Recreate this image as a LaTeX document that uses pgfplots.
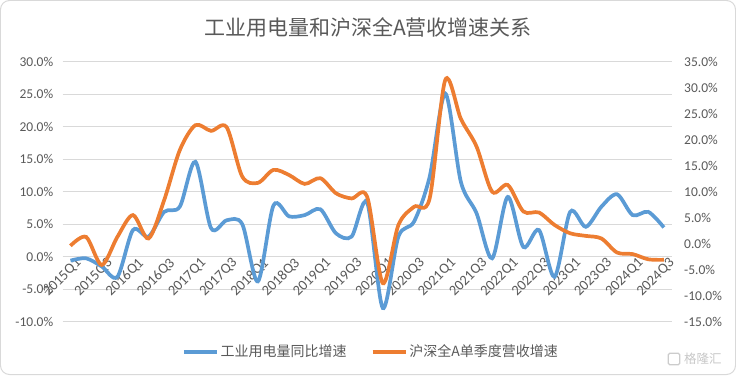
\documentclass[border=0pt]{standalone}
\usepackage{fontspec}
\setmainfont{Carlito}
\newfontfamily\cjk{Noto Sans CJK SC}
\usepackage{pgfplots}
\pgfplotsset{compat=1.18}
\usepackage{pgfplotstable}
\definecolor{eblue}{HTML}{5B9BD5}
\definecolor{eorange}{HTML}{ED7D31}
\definecolor{etext}{HTML}{595959}
\definecolor{egrid}{HTML}{D9D9D9}

\pgfplotstableread{
i blue orange
0 -0.6 -0.4
1 -0.25 1.3
2 -1.5 -4.1
3 -3.1 1.3
4 4.1 5.5
5 3.1 1.0
6 6.9 8.4
7 7.7 18.0
8 14.6 22.8
9 4.4 21.7
10 5.6 22.4
11 5.0 12.9
12 -3.8 11.7
13 7.9 14.2
14 6.2 13.2
15 6.4 11.5
16 7.3 12.6
17 3.6 9.7
18 3.1 8.7
19 8.3 9.0
20 -7.9 -7.6
21 3.1 3.6
22 5.4 7.1
23 12.3 8.7
24 25.1 31.5
25 11.5 24.0
26 6.7 18.7
27 -0.25 10.0
28 9.2 11.3
29 1.5 6.2
30 4.1 6.0
31 -3.1 3.6
32 6.9 2.0
33 4.6 1.5
34 7.7 1.0
35 9.6 -1.7
36 6.4 -2.0
37 6.9 -3.0
38 4.5 -3.1
}\data

\begin{document}
\begin{tikzpicture}
\useasboundingbox (-62.7pt,-53.3pt) rectangle (673.3pt,321.7pt);
\draw[egrid, line width=1pt, rounded corners=9pt] (-62.2pt,-52.8pt) rectangle (672.8pt,321.2pt);
\begin{axis}[
  at={(0pt,0pt)}, anchor=south west, scale only axis,
  width=609pt, height=260pt,
  xmin=-0.5, xmax=38.5, ymin=-10, ymax=30,
  axis x line*=middle, axis y line*=left,
  hide obscured x ticks=false, hide obscured y ticks=false,
  x axis line style={draw=none}, y axis line style={draw=none},
  ytick={-10,-5,...,30},
  ymajorgrids, grid style={egrid, line width=0.8pt},
  major tick length=0pt,
  xtick={0,2,...,38},
  xticklabels={2015Q1,2015Q3,2016Q1,2016Q3,2017Q1,2017Q3,2018Q1,2018Q3,2019Q1,2019Q3,2020Q1,2020Q3,2021Q1,2021Q3,2022Q1,2022Q3,2023Q1,2023Q3,2024Q1,2024Q3},
  xticklabel style={rotate=45, anchor=east, font=\fontsize{14.5}{14.5}\selectfont, text=etext, inner sep=1pt, yshift=-9pt, xshift=4pt},
  yticklabel={\pgfmathprintnumber[fixed,fixed zerofill,precision=1,assume math mode=true]{\tick}\%},
  yticklabel style={font=\fontsize{13.5}{13.5}\selectfont, text=etext, xshift=-6pt},
  legend columns=2,
  legend style={at={(0.5062,-0.1154)}, anchor=center, draw=none, fill=none,
    font=\cjk\fontsize{14}{14}\selectfont, text=etext,
    /tikz/every even column/.append style={column sep=22pt}},
  legend image code/.code={\draw[#1] (0pt,0pt) -- (33pt,0pt);},
]
\addplot[eblue, line width=3.7pt, smooth] table[x=i, y=blue]{\data};
\addlegendentry{工业用电量同比增速}
\addlegendimage{eorange, line width=3.7pt}
\addlegendentry{沪深全A单季度营收增速}
\end{axis}
\begin{axis}[
  at={(0pt,0pt)}, anchor=south west, scale only axis,
  width=609pt, height=260pt,
  xmin=-0.5, xmax=38.5, ymin=-15, ymax=35,
  axis y line*=right, axis x line=none,
  y axis line style={draw=none},
  ytick={-15,-10,...,35},
  major tick length=0pt,
  yticklabel={\pgfmathprintnumber[fixed,fixed zerofill,precision=1,assume math mode=true]{\tick}\%},
  yticklabel style={font=\fontsize{13.5}{13.5}\selectfont, text=etext, xshift=9pt},
]
\addplot[eorange, line width=3.7pt, smooth] table[x=i, y=orange]{\data};
\end{axis}
\node[text=etext, font=\cjk\fontsize{21}{21}\selectfont] at (305.3pt,294.7pt) {工业用电量和沪深全A营收增速关系};
\draw[black!20, line width=1.2pt, rounded corners=1.5pt] (605.5pt,-43pt) rectangle (617pt,-31.5pt);
\node[text=black!22, font=\cjk\fontsize{12.5}{12.5}\selectfont, anchor=west] at (618pt,-37.2pt) {格隆汇};
\end{tikzpicture}
\end{document}
